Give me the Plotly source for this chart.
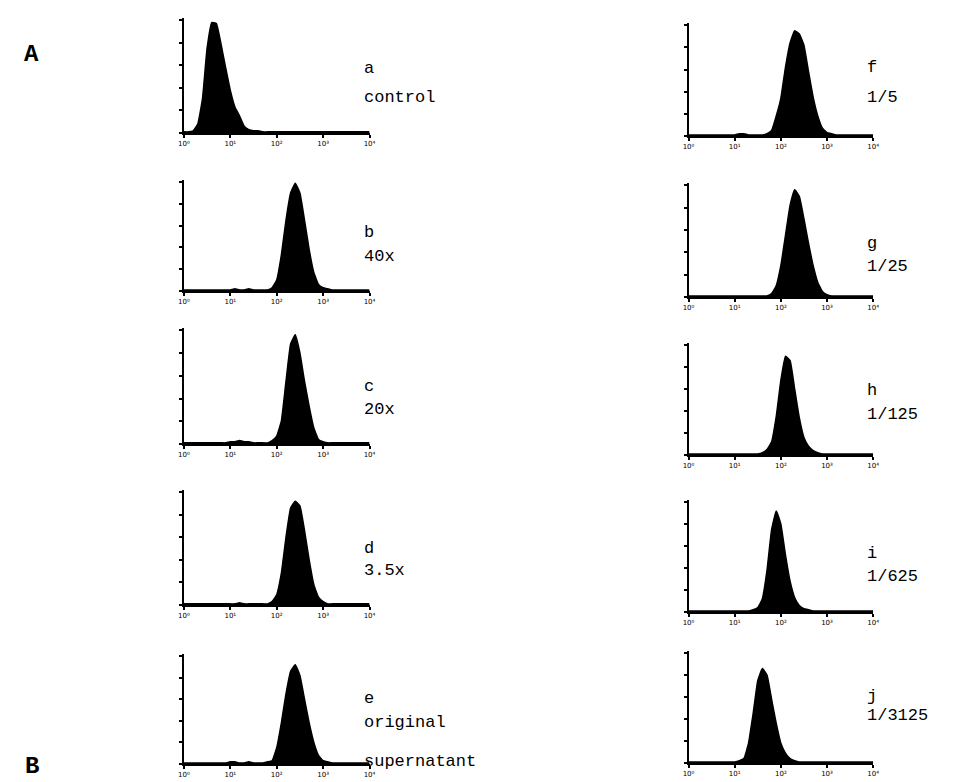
import plotly.graph_objects as go

# Histogram bins: log10 channel position (decades), 0.0 .. 4.0 step 0.1
DECADES = [round(i * 0.1, 1) for i in range(41)]

# Cell counts (% of max) per bin
counts_a = [1, 1, 2, 8, 30, 75, 98, 97, 79, 58, 38, 23, 15, 6, 3, 2, 2, 1, 1, 1, 1,
            1, 1, 1, 1, 1, 1, 1, 1, 1, 1, 1, 1, 1, 1, 1, 1, 1, 1, 1, 1]
counts_b = [1, 1, 1, 1, 1, 1, 1, 1, 1, 1, 1, 2, 1, 1, 2, 1, 1, 1, 1, 3, 10,
            33, 65, 90, 99, 90, 65, 38, 17, 6, 3, 2, 1, 1, 1, 1, 1, 1, 1, 1, 1]
counts_c = [1, 1, 1, 1, 1, 1, 1, 1, 1, 1, 2, 2, 3, 2, 2, 1, 1, 1, 1, 3, 7,
            20, 55, 88, 96, 80, 55, 33, 14, 4, 2, 1, 1, 1, 1, 1, 1, 1, 1, 1, 1]
counts_d = [1, 1, 1, 1, 1, 1, 1, 1, 1, 1, 1, 1, 2, 1, 1, 1, 1, 1, 1, 3, 9,
            28, 60, 86, 92, 88, 66, 40, 18, 7, 3, 1, 1, 1, 1, 1, 1, 1, 1, 1, 1]
counts_e = [1, 1, 1, 1, 1, 1, 1, 1, 1, 1, 2, 2, 1, 1, 2, 1, 1, 1, 2, 3, 15,
            38, 65, 86, 92, 82, 60, 38, 20, 8, 3, 2, 1, 1, 1, 1, 1, 1, 1, 1, 1]
counts_f = [1, 1, 1, 1, 1, 1, 1, 1, 1, 1, 1, 2, 2, 1, 1, 1, 1, 2, 5, 18, 34,
            62, 84, 95, 92, 82, 58, 35, 18, 7, 3, 2, 1, 1, 1, 1, 1, 1, 1, 1, 1]
counts_g = [1, 1, 1, 1, 1, 1, 1, 1, 1, 1, 1, 1, 1, 1, 1, 1, 1, 1, 3, 10, 28,
            55, 82, 96, 90, 70, 48, 28, 13, 5, 2, 1, 1, 1, 1, 1, 1, 1, 1, 1, 1]
counts_h = [1, 1, 1, 1, 1, 1, 1, 1, 1, 1, 1, 1, 1, 1, 1, 1, 2, 5, 12, 35, 68,
            90, 86, 60, 34, 16, 8, 4, 2, 1, 1, 1, 1, 1, 1, 1, 1, 1, 1, 1, 1]
counts_i = [1, 1, 1, 1, 1, 1, 1, 1, 1, 1, 1, 1, 1, 1, 2, 4, 12, 38, 75, 92, 80,
            52, 28, 13, 6, 3, 2, 1, 1, 1, 1, 1, 1, 1, 1, 1, 1, 1, 1, 1, 1]
counts_j = [1, 1, 1, 1, 1, 1, 1, 1, 1, 1, 1, 2, 4, 18, 45, 75, 86, 80, 58, 36, 18,
            9, 4, 2, 1, 1, 1, 1, 1, 1, 1, 1, 1, 1, 1, 1, 1, 1, 1, 1, 1]

PANEL_IDS = ["a", "b", "c", "d", "e", "f", "g", "h", "i", "j"]
PANEL_COUNTS = [counts_a, counts_b, counts_c, counts_d, counts_e,
                counts_f, counts_g, counts_h, counts_i, counts_j]
PANEL_TEXT = [["a", "control"], ["b", "40x"], ["c", "20x"], ["d", "3.5x"],
              ["e", "original", "supernatant"], ["f", "1/5"], ["g", "1/25"],
              ["h", "1/125"], ["i", "1/625"], ["j", "1/3125"]]
TICK_VALS = [1, 10, 100, 1000, 10000]
TICK_TEXT = ["10⁰", "10¹", "10²", "10³", "10⁴"]

W, H = 965, 782

# layout in pixels: (x_left, x_right) and (y_top, y_baseline)
LEFT = (172, 360)
RIGHT = (683, 870)
ROWS_LEFT = [(10, 125), (172, 283), (320, 436), (482, 597), (646, 756)]
ROWS_RIGHT = [(15, 128), (175, 289), (335, 447), (492, 604), (643, 755)]
TEXT_Y = [[61, 90], [224, 248], [378, 401], [540, 562], [690, 714, 753],
          [60, 90], [235, 258], [382, 406], [545, 568], [688, 707]]

fig = go.Figure()
MONO = "Liberation Mono, Courier New, monospace"

for k, (pid, cnt) in enumerate(zip(PANEL_IDS, PANEL_COUNTS)):
    col = LEFT if k < 5 else RIGHT
    top, base = (ROWS_LEFT + ROWS_RIGHT)[k]
    n = k + 1
    xa = "x" if n == 1 else f"x{n}"
    ya = "y" if n == 1 else f"y{n}"
    fig.add_trace(go.Scatter(
        x=[10 ** d for d in DECADES], y=cnt, mode="lines",
        line=dict(color="black", width=1.5, shape="spline", smoothing=0.35),
        fill="tozeroy", fillcolor="black", xaxis=xa, yaxis=ya,
        showlegend=False, hoverinfo="skip"))
    xkey = "xaxis" if n == 1 else f"xaxis{n}"
    ykey = "yaxis" if n == 1 else f"yaxis{n}"
    fig.layout[xkey] = dict(
        domain=[col[0] / W, col[1] / W], anchor=ya, type="log", range=[0, 4],
        showgrid=False, zeroline=False, showline=True, linecolor="black",
        linewidth=2, ticks="outside", ticklen=3, tickwidth=2, tickcolor="black",
        tickvals=TICK_VALS, ticktext=TICK_TEXT,
        tickfont=dict(size=7, color="black", family="DejaVu Sans"))
    fig.layout[ykey] = dict(
        domain=[1 - base / H, 1 - top / H], anchor=xa, range=[0, 102],
        showgrid=False, zeroline=False, showline=True, linecolor="black",
        linewidth=2, ticks="outside", ticklen=3, tickwidth=2, tickcolor="black",
        tickvals=[0, 20, 40, 60, 80, 100], showticklabels=False)
    tx = col[1] - 8
    for t, ty in zip(PANEL_TEXT[k], TEXT_Y[k]):
        fig.add_annotation(x=tx / W, y=1 - ty / H, xref="paper", yref="paper",
                           text=t, showarrow=False, xanchor="left",
                           yanchor="middle",
                           font=dict(family=MONO, size=17, color="black"))

for letter, (lx, ly) in {"A": (18, 46), "B": (18, 758)}.items():
    fig.add_annotation(x=lx / W, y=1 - ly / H, xref="paper", yref="paper",
                       text=f"<b>{letter}</b>", showarrow=False,
                       xanchor="center", yanchor="middle",
                       font=dict(family=MONO, size=24, color="black"))

fig.update_layout(width=W, height=H, margin=dict(l=0, r=0, t=0, b=0),
                  paper_bgcolor="white", plot_bgcolor="white")
fig.write_html("out.html")
